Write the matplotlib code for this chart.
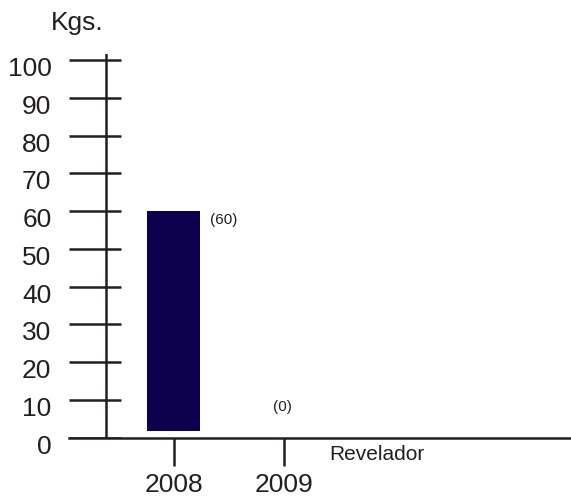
import matplotlib
matplotlib.use("Agg")
import matplotlib.pyplot as plt
from matplotlib import transforms

plt.rcParams["font.family"] = ["Liberation Sans", "DejaVu Sans"]

years = ["2008", "2009"]
kgs = [60, 0]
bar_base = [1.8, 1.8]
value_labels = ["(60)", "(0)"]
y_ticks = [0, 10, 20, 30, 40, 50, 60, 70, 80, 90, 100]

INK = "#231f20"
BAR = "#0d004c"

fig = plt.figure(figsize=(5.71, 4.98), dpi=100)
ax = fig.add_axes([0.1208, 0.1211, 0.8792, 0.7705])
ax.set_xlim(-0.949, 3.602)
ax.set_ylim(0, 101.6)
ax.axis("off")

x = list(range(len(years)))
heights = [v - b if v > b else 0 for v, b in zip(kgs, bar_base)]
ax.bar(x, heights, bottom=bar_base, width=0.48, color=BAR, zorder=3)

# axes lines
ax.axhline(0, color=INK, lw=1.8, zorder=2, clip_on=False)
ax.axvline(-0.614, 0, 1, color=INK, lw=1.8, zorder=2)
ax.hlines(y_ticks, -0.949, -0.478, color=INK, lw=1.8, zorder=2)

# y tick labels, sitting a little below each tick
for t in y_ticks:
    tr = transforms.offset_copy(ax.transData, fig=fig, x=0, y=-9, units="dots")
    ax.text(-1.108, t, str(t), transform=tr, ha="right", va="center",
            fontsize=19, color=INK)

# x ticks and labels
for i, yr in enumerate(years):
    ax.vlines(i, -7.4, 0, color=INK, lw=1.8, clip_on=False)
    tr = transforms.offset_copy(ax.transData, fig=fig, x=0, y=-47, units="dots")
    ax.text(i, 0, yr, transform=tr, ha="center", va="center",
            fontsize=19, color=INK)

# value labels
label_pos = [(0.33, 57.6), (0.90, 8.2)]
for (lx, ly), txt in zip(label_pos, value_labels):
    ax.text(lx, ly, txt, ha="left", va="center", fontsize=11, color=INK)

tr = transforms.offset_copy(ax.transData, fig=fig, x=0, y=-17, units="dots")
ax.text(1.408, 0, "Revelador", transform=tr, ha="left", va="center",
        fontsize=15, color=INK)

fig.text(77 / 571, 1 - 23 / 498, "Kgs.", ha="center", va="center",
         fontsize=19, color=INK)

fig.savefig("out.png", dpi=100)
